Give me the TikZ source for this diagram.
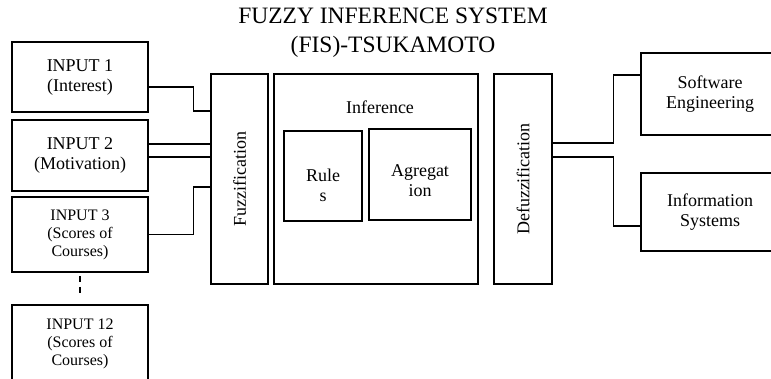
\documentclass[tikz,border=0pt]{standalone}
\usepackage{fontspec}
\setmainfont{Liberation Serif}
\usetikzlibrary{positioning}

\begin{document}
\begin{tikzpicture}[x=1pt,y=-1pt]
      \clip (0,0) rectangle (771,378);
      \node (title) at (393,33) [align=center,font=\fontsize{23.5}{29}\selectfont]
        {FUZZY INFERENCE SYSTEM\\(FIS)-TSUKAMOTO};
      \begin{scope}[every node/.style={rectangle,draw,line width=1.5pt,align=center,
          inner sep=0pt,font=\fontsize{18}{20}\selectfont}]
        \node (in1) at (80,77) [minimum width=136pt,minimum height=70pt] {INPUT 1\\(Interest)};
        \node (in2) at (80,155.5) [minimum width=136pt,minimum height=71pt] {INPUT 2\\(Motivation)};
        \node (in3) at (80,234.5) [minimum width=136pt,minimum height=75pt,
          font=\fontsize{16}{18}\selectfont] {INPUT 3\\(Scores of\\Courses)};
        \node (in12) at (80,344) [minimum width=136pt,minimum height=78pt,
          font=\fontsize{16}{18}\selectfont] {INPUT 12\\(Scores of\\Courses)};
        \node (fuzz) at (239.5,179) [minimum width=57pt,minimum height=210pt] {};
        \node (infer) at (376,179) [minimum width=204pt,minimum height=210pt] {};
        \node (rules) at (323,176) [minimum width=78pt,minimum height=90pt] {};
        \node (agg) at (420,174.5) [minimum width=102pt,minimum height=91pt] {};
        \node (defuzz) at (523,179) [minimum width=58pt,minimum height=210pt] {};
        \node (se) at (710,94) [minimum width=138pt,minimum height=82pt] {Software\\Engineering};
        \node (is) at (710,212) [minimum width=138pt,minimum height=78pt] {Information\\Systems};
      \end{scope}
      \begin{scope}[every node/.style={align=center,font=\fontsize{18}{20}\selectfont}]
        \node (fuzztext) at (fuzz) [rotate=90] {Fuzzification};
        \node (infertext) at (380,107) {Inference};
        \node (rulestext) at ([yshift=-9pt]rules.center) {Rule\\s};
        \node (aggtext) at ([yshift=-6pt]agg.center) {Agregat\\ion};
        \node (defuzztext) at (defuzz) [rotate=90] {Defuzzification};
      \end{scope}
      \begin{scope}[line width=1.3pt]
        \draw ([yshift=-10pt]in1.east) -- ++(45,0) |- ([yshift=68pt]fuzz.west);
        \draw ([yshift=11.5pt]in2.east) -- ([yshift=11.5pt]in2.east -| fuzz.west);
        \draw ([yshift=-1.5pt]in2.east) -- ([yshift=-1.5pt]in2.east -| fuzz.west);
        \draw (in3.east) -- ++(45,0) |- ([yshift=-8pt]fuzz.west);
        \draw[dash pattern=on 6pt off 5pt,shorten <=3pt,shorten >=10pt] (in3.south) -- (in12.north);
        \draw ([yshift=36pt]defuzz.east) -- ++(61,0) |- ([yshift=19pt]se.west);
        \draw ([yshift=22pt]defuzz.east) -- ++(61,0) |- ([yshift=-14pt]is.west);
      \end{scope}
    \end{tikzpicture}
\end{document}
